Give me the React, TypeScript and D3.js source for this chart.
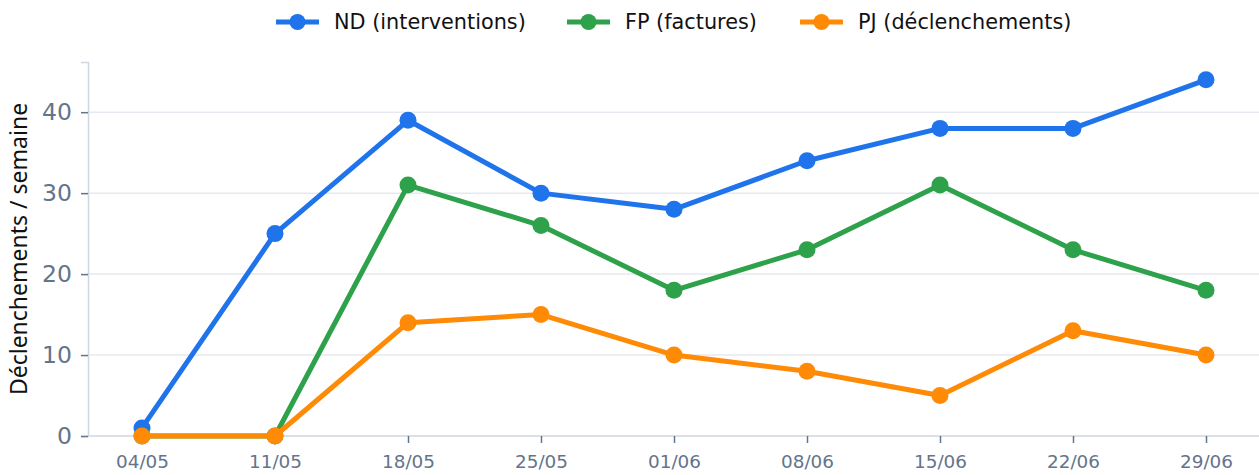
import React, { useRef, useEffect } from "react";
import * as d3 from "d3";

const weeks = ["04/05", "11/05", "18/05", "25/05", "01/06", "08/06", "15/06", "22/06", "29/06"];
const ndValues = [1, 25, 39, 30, 28, 34, 38, 38, 44];
const fpValues = [0, 0, 31, 26, 18, 23, 31, 23, 18];
const pjValues = [0, 0, 14, 15, 10, 8, 5, 13, 10];
const yTicks = [0, 10, 20, 30, 40];

const series = [
  { name: "ND (interventions)", values: ndValues, color: "#1f73eb" },
  { name: "FP (factures)", values: fpValues, color: "#2ea14b" },
  { name: "PJ (déclenchements)", values: pjValues, color: "#ff8a05" },
];

const W = 1259;
const H = 475;
const font = "DejaVu Sans, sans-serif";

const App = () => {
  const ref = useRef<SVGSVGElement>(null);

  useEffect(() => {
    const svg = d3.select(ref.current);
    svg.selectAll("*").remove();

    const x = d3.scalePoint().domain(weeks).range([142, 1206]);
    const y = d3.scaleLinear().domain([0, 46.2]).range([436, 62]);
    const axisLeft = 88;

    // grid
    svg
      .append("g")
      .selectAll("line")
      .data(yTicks.filter((d) => d > 0))
      .enter()
      .append("line")
      .attr("x1", axisLeft)
      .attr("x2", W)
      .attr("y1", (d) => y(d))
      .attr("y2", (d) => y(d))
      .attr("stroke", "#e6e9f0")
      .attr("stroke-width", 1.5);

    // y axis
    const gy = svg
      .append("g")
      .attr("transform", `translate(${axisLeft},0)`)
      .call(d3.axisLeft(y).tickValues(yTicks).tickSize(7).tickPadding(9));
    gy.select(".domain").attr("stroke", "#cfd6e0").attr("stroke-width", 1.5);
    gy.selectAll(".tick line").attr("stroke", "#64748b").attr("stroke-width", 1.5);
    gy.selectAll(".tick text")
      .attr("fill", "#64748b")
      .style("font-family", font)
      .style("font-size", "23.5px");

    // x axis
    const gx = svg
      .append("g")
      .attr("transform", `translate(0,${y(0)})`)
      .call(d3.axisBottom(x).tickSize(7).tickPadding(12).tickSizeOuter(0));
    gx.select(".domain")
      .attr("d", `M${axisLeft},0H${W}`)
      .attr("stroke", "#cfd6e0")
      .attr("stroke-width", 1.5);
    gx.selectAll(".tick line").attr("stroke", "#64748b").attr("stroke-width", 1.5);
    gx.selectAll(".tick text")
      .attr("fill", "#64748b")
      .style("font-family", font)
      .style("font-size", "18.4px");

    // y title
    svg
      .append("text")
      .attr("transform", `translate(27,${249}) rotate(-90)`)
      .attr("text-anchor", "middle")
      .style("font-family", "Noto Sans, sans-serif")
      .style("font-size", "23px")
      .attr("fill", "#111")
      .text("Déclenchements / semaine");

    const line = d3
      .line<number>()
      .x((_, i) => x(weeks[i])!)
      .y((d) => y(d));

    series.forEach((s) => {
      const g = svg.append("g");
      g.append("path")
        .attr("d", line(s.values))
        .attr("fill", "none")
        .attr("stroke", s.color)
        .attr("stroke-width", 5)
        .attr("stroke-linejoin", "round");
      g.selectAll("circle")
        .data(s.values)
        .enter()
        .append("circle")
        .attr("cx", (_, i) => x(weeks[i])!)
        .attr("cy", (d) => y(d))
        .attr("r", 8.5)
        .attr("fill", s.color);
    });

    // legend
    const legendX = [276, 567, 800];
    series.forEach((s, i) => {
      const lg = svg.append("g").attr("transform", `translate(${legendX[i]},22)`);
      lg.append("line")
        .attr("x1", 0)
        .attr("x2", 43)
        .attr("stroke", s.color)
        .attr("stroke-width", 5);
      lg.append("circle").attr("cx", 21.5).attr("r", 8).attr("fill", s.color);
      lg.append("text")
        .attr("x", 58)
        .attr("dy", "0.35em")
        .style("font-family", font)
        .style("font-size", "20.8px")
        .attr("fill", "#111")
        .text(s.name);
    });
  }, []);

  return (
    <div style={{ position: "absolute", left: 0, top: 0 }}>
      <svg ref={ref} width={W} height={H} style={{ display: "block" }}></svg>
    </div>
  );
};

export default App;
